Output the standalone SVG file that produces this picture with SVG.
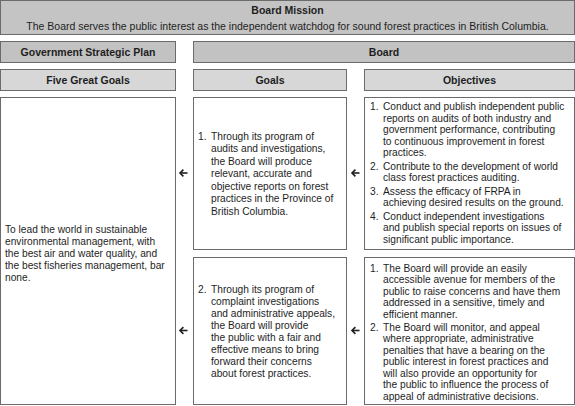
<svg xmlns="http://www.w3.org/2000/svg" width="575" height="406" viewBox="0 0 575 406">
<style>
  .box { stroke: #6b6b6b; stroke-width: 1; }
  .mission { fill: #c4c4c4; }
  .hdr2 { fill: #c2c2c2; }
  .hdr3 { fill: #d7d7d7; }
  .body { fill: #ffffff; }
  text { font-family: "Liberation Sans", Arial, sans-serif; fill: #1e1e1e; }
  .h { font-size: 10.5px; font-weight: bold; text-anchor: middle; }
  .m { font-size: 10.5px; text-anchor: middle; }
  .t { font-size: 10.2px; }
  .arrow { stroke: #1e1e1e; stroke-width: 1.6; fill: none; stroke-linecap: butt; stroke-linejoin: miter; }
</style>
<defs>
  <g id="arr">
    <path class="arrow" d="M8.5,0 H1"/>
    <path class="arrow" d="M4.4,-3.4 L1,0 L4.4,3.4"/>
  </g>
</defs>
<rect width="575" height="406" fill="#ffffff"/>

<g id="board-mission">
  <rect class="box mission" x="0.5" y="0.5" width="574" height="34"/>
  <text class="h" x="287.5" y="14">Board Mission</text>
  <text class="m" x="287.5" y="30">The Board serves the public interest as the independent watchdog for sound forest practices in British Columbia.</text>
</g>

<g id="gov-strategic-plan">
  <rect class="box hdr2" x="0.5" y="41.5" width="175" height="21"/>
  <text class="h" x="88" y="55.5">Government Strategic Plan</text>
</g>
<g id="board">
  <rect class="box hdr2" x="193.5" y="41.5" width="381" height="21"/>
  <text class="h" x="384" y="55.5">Board</text>
</g>

<g id="five-great-goals">
  <rect class="box hdr3" x="0.5" y="69.5" width="175" height="21"/>
  <text class="h" x="88" y="83.5">Five Great Goals</text>
</g>
<g id="goals">
  <rect class="box hdr3" x="193.5" y="69.5" width="153" height="21"/>
  <text class="h" x="270" y="83.5">Goals</text>
</g>
<g id="objectives">
  <rect class="box hdr3" x="364.5" y="69.5" width="210" height="21"/>
  <text class="h" x="469.5" y="83.5">Objectives</text>
</g>

<g id="great-goal">
  <rect class="box body" x="0.5" y="97.5" width="175" height="307"/>
  <text class="t">
    <tspan x="5" y="233">To lead the world in sustainable</tspan>
    <tspan x="5" y="245">environmental management, with</tspan>
    <tspan x="5" y="257">the best air and water quality, and</tspan>
    <tspan x="5" y="269">the best fisheries management, bar</tspan>
    <tspan x="5" y="281">none.</tspan>
  </text>
</g>

<g id="goal-1">
  <rect class="box body" x="193.5" y="97.5" width="153" height="152"/>
  <text class="t">
    <tspan x="198" y="139.5">1.</tspan><tspan x="211" y="139.5">Through its program of</tspan>
    <tspan x="211" y="152">audits and investigations,</tspan>
    <tspan x="211" y="164.5">the Board will produce</tspan>
    <tspan x="211" y="177">relevant, accurate and</tspan>
    <tspan x="211" y="189.5">objective reports on forest</tspan>
    <tspan x="211" y="202">practices in the Province of</tspan>
    <tspan x="211" y="214.5">British Columbia.</tspan>
  </text>
</g>

<g id="goal-2">
  <rect class="box body" x="193.5" y="257.5" width="153" height="147"/>
  <text class="t">
    <tspan x="198" y="293">2.</tspan><tspan x="211" y="293">Through its program of</tspan>
    <tspan x="211" y="305">complaint investigations</tspan>
    <tspan x="211" y="317">and administrative appeals,</tspan>
    <tspan x="211" y="329">the Board will provide</tspan>
    <tspan x="211" y="341">the public with a fair and</tspan>
    <tspan x="211" y="353">effective means to bring</tspan>
    <tspan x="211" y="365">forward their concerns</tspan>
    <tspan x="211" y="377">about forest practices.</tspan>
  </text>
</g>

<g id="objectives-1">
  <rect class="box body" x="364.5" y="97.5" width="210" height="152"/>
  <text class="t">
    <tspan x="370" y="110">1.</tspan><tspan x="383" y="110">Conduct and publish independent public</tspan>
    <tspan x="383" y="121.5">reports on audits of both industry and</tspan>
    <tspan x="383" y="133">government performance, contributing</tspan>
    <tspan x="383" y="144.5">to continuous improvement in forest</tspan>
    <tspan x="383" y="156">practices.</tspan>
    <tspan x="370" y="169.5">2.</tspan><tspan x="383" y="169.5">Contribute to the development of world</tspan>
    <tspan x="383" y="181">class forest practices auditing.</tspan>
    <tspan x="370" y="194.5">3.</tspan><tspan x="383" y="194.5">Assess the efficacy of FRPA in</tspan>
    <tspan x="383" y="206">achieving desired results on the ground.</tspan>
    <tspan x="370" y="219.5">4.</tspan><tspan x="383" y="219.5">Conduct independent investigations</tspan>
    <tspan x="383" y="231">and publish special reports on issues of</tspan>
    <tspan x="383" y="242.5">significant public importance.</tspan>
  </text>
</g>

<g id="objectives-2">
  <rect class="box body" x="364.5" y="257.5" width="210" height="147"/>
  <text class="t">
    <tspan x="370" y="271.5">1.</tspan><tspan x="383" y="271.5">The Board will provide an easily</tspan>
    <tspan x="383" y="283">accessible avenue for members of the</tspan>
    <tspan x="383" y="294.5">public to raise concerns and have them</tspan>
    <tspan x="383" y="306">addressed in a sensitive, timely and</tspan>
    <tspan x="383" y="317.5">efficient manner.</tspan>
    <tspan x="370" y="330.5">2.</tspan><tspan x="383" y="330.5">The Board will monitor, and appeal</tspan>
    <tspan x="383" y="342">where appropriate, administrative</tspan>
    <tspan x="383" y="353.5">penalties that have a bearing on the</tspan>
    <tspan x="383" y="365">public interest in forest practices and</tspan>
    <tspan x="383" y="376.5">will also provide an opportunity for</tspan>
    <tspan x="383" y="388">the public to influence the process of</tspan>
    <tspan x="383" y="399.5">appeal of administrative decisions.</tspan>
  </text>
</g>

<g id="connectors">
  <use href="#arr" x="179" y="173"/>
  <use href="#arr" x="179" y="330.5"/>
  <use href="#arr" x="351" y="173"/>
  <use href="#arr" x="351" y="330.5"/>
</g>
</svg>
